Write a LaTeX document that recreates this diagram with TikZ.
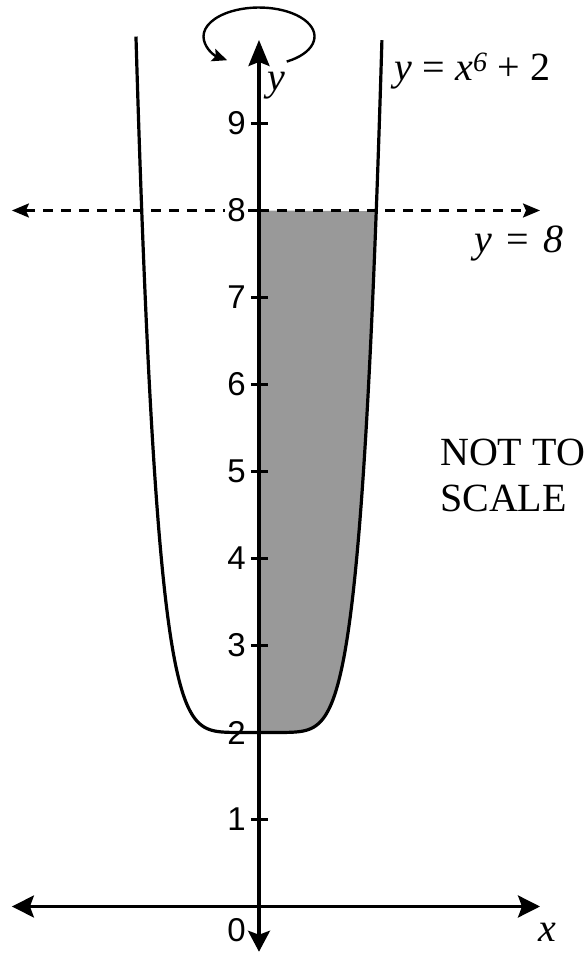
\documentclass[tikz,border=0pt]{standalone}
\usepackage{fontspec}
\setmainfont{Liberation Serif}
\newfontfamily\tickfont{Liberation Sans}
\usetikzlibrary{arrows.meta}
\definecolor{regiongray}{HTML}{999999}
\begin{document}
\begin{tikzpicture}[x=87pt,y=87pt,
  axisline/.style={line width=3.2pt},
  curveline/.style={line width=3.2pt},
  tickline/.style={line width=2.4pt},
  ticklab/.style={font=\tickfont\fontsize{33}{33}\selectfont, anchor=east, inner sep=0pt},
  lab/.style={font=\fontsize{40}{46}\selectfont, inner sep=0pt},
]
\useasboundingbox (-2.977,-0.5345) rectangle (3.770,10.4195);
% shaded region
\fill[regiongray] plot[domain=0:1.3480, samples=80] (\x,{\x*\x*\x*\x*\x*\x+2}) -- (0,8) -- cycle;
% dashed line y = 8
\coordinate (dl) at (-2.84,8);
\coordinate (dr) at (3.23,8);
\draw[line width=2.5pt, dash pattern=on 10pt off 8pt, {Stealth[length=17pt,width=14pt,inset=3pt]}-{Stealth[length=17pt,width=14pt,inset=3pt]}] (dl) -- (dr);
% curve
\draw[curveline] plot[domain=-1.4142:1.4142, samples=241] (\x,{\x*\x*\x*\x*\x*\x+2});
% axes
\coordinate (xl) at (-2.84,0);
\coordinate (xr) at (3.23,0);
\coordinate (yb) at (0,-0.52);
\coordinate (yt) at (0,9.96);
\draw[axisline, {Stealth[length=22pt,width=22pt,inset=4pt]}-{Stealth[length=22pt,width=22pt,inset=4pt]}] (xl) -- (xr);
\draw[axisline, -{Stealth[length=21pt,width=22pt,inset=4pt]}] (0,0) -- (yb);
\draw[axisline, -{Stealth[length=26pt,width=21pt,inset=4pt]}] (0,0) -- (yt);
% ticks
\foreach \k in {1,...,9} {
  \draw[tickline] (-0.092,\k) -- (0.103,\k);
}
\foreach \k in {1,2,3,4,5,6,7,9} {
  \node[ticklab] (t\k) at (-0.149,\k) {\k};
}
\node[ticklab, fill=white, inner sep=2pt] (t8) at (-0.126,8) {8};
\node[font=\tickfont\fontsize{33}{33}\selectfont, inner sep=0pt] (t0) at (-0.259,-0.27) {0};
% rotation arrow
\coordinate (rc) at (0,10);
\draw[line width=2.4pt, -{Stealth[length=15pt,width=13pt,inset=3pt]}] ([shift={(-60:0.638 and 0.333)}]rc) arc[start angle=-60, end angle=235, x radius=0.638, y radius=0.333];
% labels
\node[lab] (xlab) at (3.31,-0.293) {\textit{x}};
\node[lab] (ylab) at (0.195,9.43) {\textit{y}};
\node[lab, anchor=west] (eq) at (1.56,9.60) {\textit{y} = \textit{x}\textsuperscript{\textit{6}} + 2};
\node[lab] (y8) at (2.989,7.615) {\textit{y}\hspace{0.35em}=\hspace{0.35em}\textit{8}};
\node[lab, anchor=west, align=left] (nts) at (2.08,4.96) {NOT TO\\SCALE};
\end{tikzpicture}
\end{document}
